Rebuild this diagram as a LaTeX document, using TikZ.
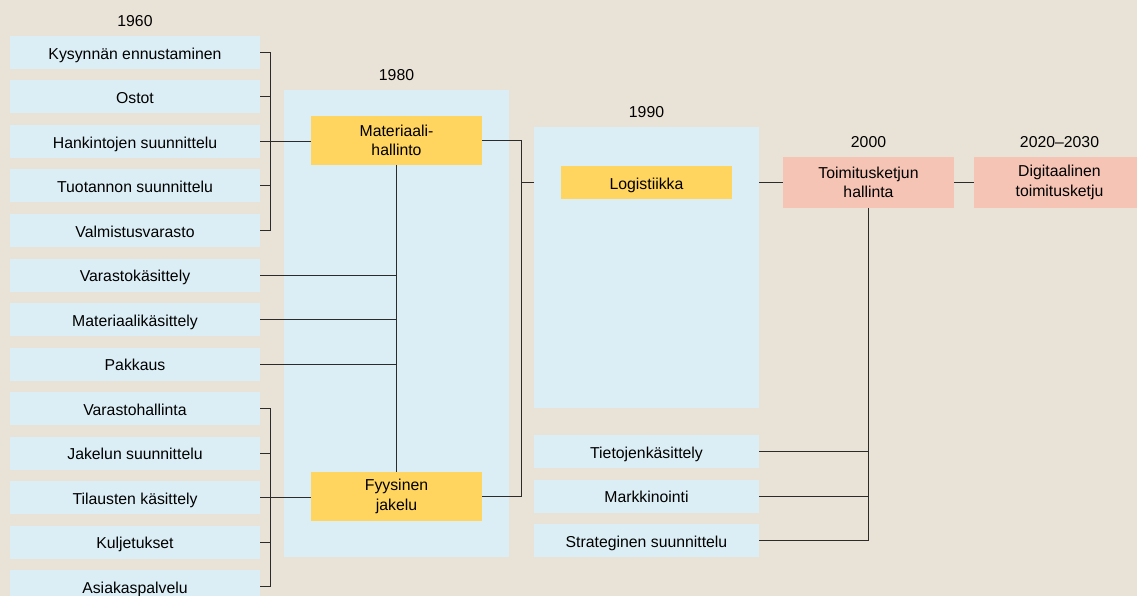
\documentclass[tikz,border=0pt]{standalone}
\usepackage{fontspec}
\setmainfont{Liberation Sans}
\usetikzlibrary{positioning}

\definecolor{bgbeige}{HTML}{E9E2D6}
\definecolor{paleblue}{HTML}{DCEEF5}
\definecolor{ochre}{HTML}{FFD55F}
\definecolor{salmon}{HTML}{F5C4B5}
\definecolor{linegray}{HTML}{2B2B2B}

\begin{document}
\begin{tikzpicture}[x=1pt, y=-1pt, node distance=11.5pt]
    % Define styles
    \tikzset{
        task/.style={rectangle, fill=paleblue, minimum width=250pt, minimum height=33pt, inner sep=0pt, outer sep=0pt, align=center, text height=15pt, text depth=1.4pt, font=\fontsize{15.8}{19.5}\selectfont},
        sidetask/.style={task, minimum width=225pt},
        era/.style={rectangle, fill=paleblue, minimum width=225pt, inner sep=0pt, outer sep=0pt},
        core/.style={task, fill=ochre, minimum width=171pt},
        chain/.style={task, fill=salmon, minimum width=171pt, minimum height=51pt},
        twoline/.style={text height=, text depth=},
        year/.style={inner sep=0pt, outer sep=0pt, font=\fontsize{15.8}{19.5}\selectfont},
        link/.style={draw=linegray, line width=1pt}
    }

    \useasboundingbox (0,0) rectangle (1137,596);
    \fill[bgbeige] (0,0) rectangle (1137,596);
    \clip (0,0) rectangle (1137,596);

    % Nodes
    \node[task] (kysynta) at (135,52.5) {Kysynnän ennustaminen};
    \node[task, below=of kysynta] (ostot) {Ostot};
    \node[task, below=of ostot] (hankinta) {Hankintojen suunnittelu};
    \node[task, below=of hankinta] (tuotanto) {Tuotannon suunnittelu};
    \node[task, below=of tuotanto] (valmistus) {Valmistusvarasto};
    \node[task, below=of valmistus] (varastok) {Varastokäsittely};
    \node[task, below=of varastok] (materiaalik) {Materiaalikäsittely};
    \node[task, below=of materiaalik] (pakkaus) {Pakkaus};
    \node[task, below=of pakkaus] (varastoh) {Varastohallinta};
    \node[task, below=of varastoh] (jakelu) {Jakelun suunnittelu};
    \node[task, below=of jakelu] (tilaus) {Tilausten käsittely};
    \node[task, below=of tilaus] (kuljetus) {Kuljetukset};
    \node[task, below=of kuljetus] (asiakas) {Asiakaspalvelu};
    \node[year, above=9.5pt of kysynta] (y1960) {1960};

    \node[era, minimum height=467pt] (box1980) at (396.5,323.5) {};
    \node[year, above=9.5pt of box1980] (y1980) {1980};
    \node[core, twoline, minimum height=49pt] (matl) at (396.5,140.5) {Materiaali-\\hallinto};
    \node[core, twoline, minimum height=49pt] (fyys) at (396.5,496.5) {Fyysinen\\jakelu};

    \node[era, minimum height=281pt] (box1990) at (646.5,267.5) {};
    \node[year, above=9.5pt of box1990] (y1990) {1990};
    \node[core] (logist) at (646.5,182.5) {Logistiikka};
    \node[sidetask] (tieto) at (646.5,451.5) {Tietojenkäsittely};
    \node[sidetask, below=of tieto] (markk) {Markkinointi};
    \node[sidetask, below=of markk] (strateg) {Strateginen suunnittelu};

    \node[chain, twoline] (toimitus) at (868.5,182.5) {Toimitusketjun\\hallinta};
    \node[year, above=9pt of toimitus] (y2000) {2000};
    \node[chain, twoline] (digi) at (1059.5,182.5) {Digitaalinen\\toimitusketju};
    \node[year, above=9pt of digi] (y2020) {2020–2030};

    % Connectors
    \draw[link] (kysynta.east) -- ++(10,0) |- (valmistus.east);
    \draw[link] (ostot.east) -- ++(10,0);
    \draw[link] (tuotanto.east) -- ++(10,0);
    \draw[link] (hankinta.east) -- (hankinta.east -| matl.west);

    \draw[link] (varastoh.east) -- ++(10,0) |- (asiakas.east);
    \draw[link] (jakelu.east) -- ++(10,0);
    \draw[link] (kuljetus.east) -- ++(10,0);
    \draw[link] (tilaus.east) -- (tilaus.east -| fyys.west);

    \draw[link] (matl.south) -- (fyys.north);
    \draw[link] (varastok.east) -- (varastok.east -| matl.south);
    \draw[link] (materiaalik.east) -- (materiaalik.east -| matl.south);
    \draw[link] (pakkaus.east) -- (pakkaus.east -| matl.south);

    \draw[link] (matl.east) -- ++(39,0) |- (fyys.east);
    \draw[link] (logist -| box1990.west) -- ++(-13,0);
    \draw[link] (logist -| box1990.east) -- (toimitus.west);
    \draw[link] (toimitus.east) -- (digi.west);

    \draw[link] (toimitus.south) |- (strateg.east);
    \draw[link] (tieto.east) -- (tieto.east -| toimitus.south);
    \draw[link] (markk.east) -- (markk.east -| toimitus.south);
\end{tikzpicture}
\end{document}
